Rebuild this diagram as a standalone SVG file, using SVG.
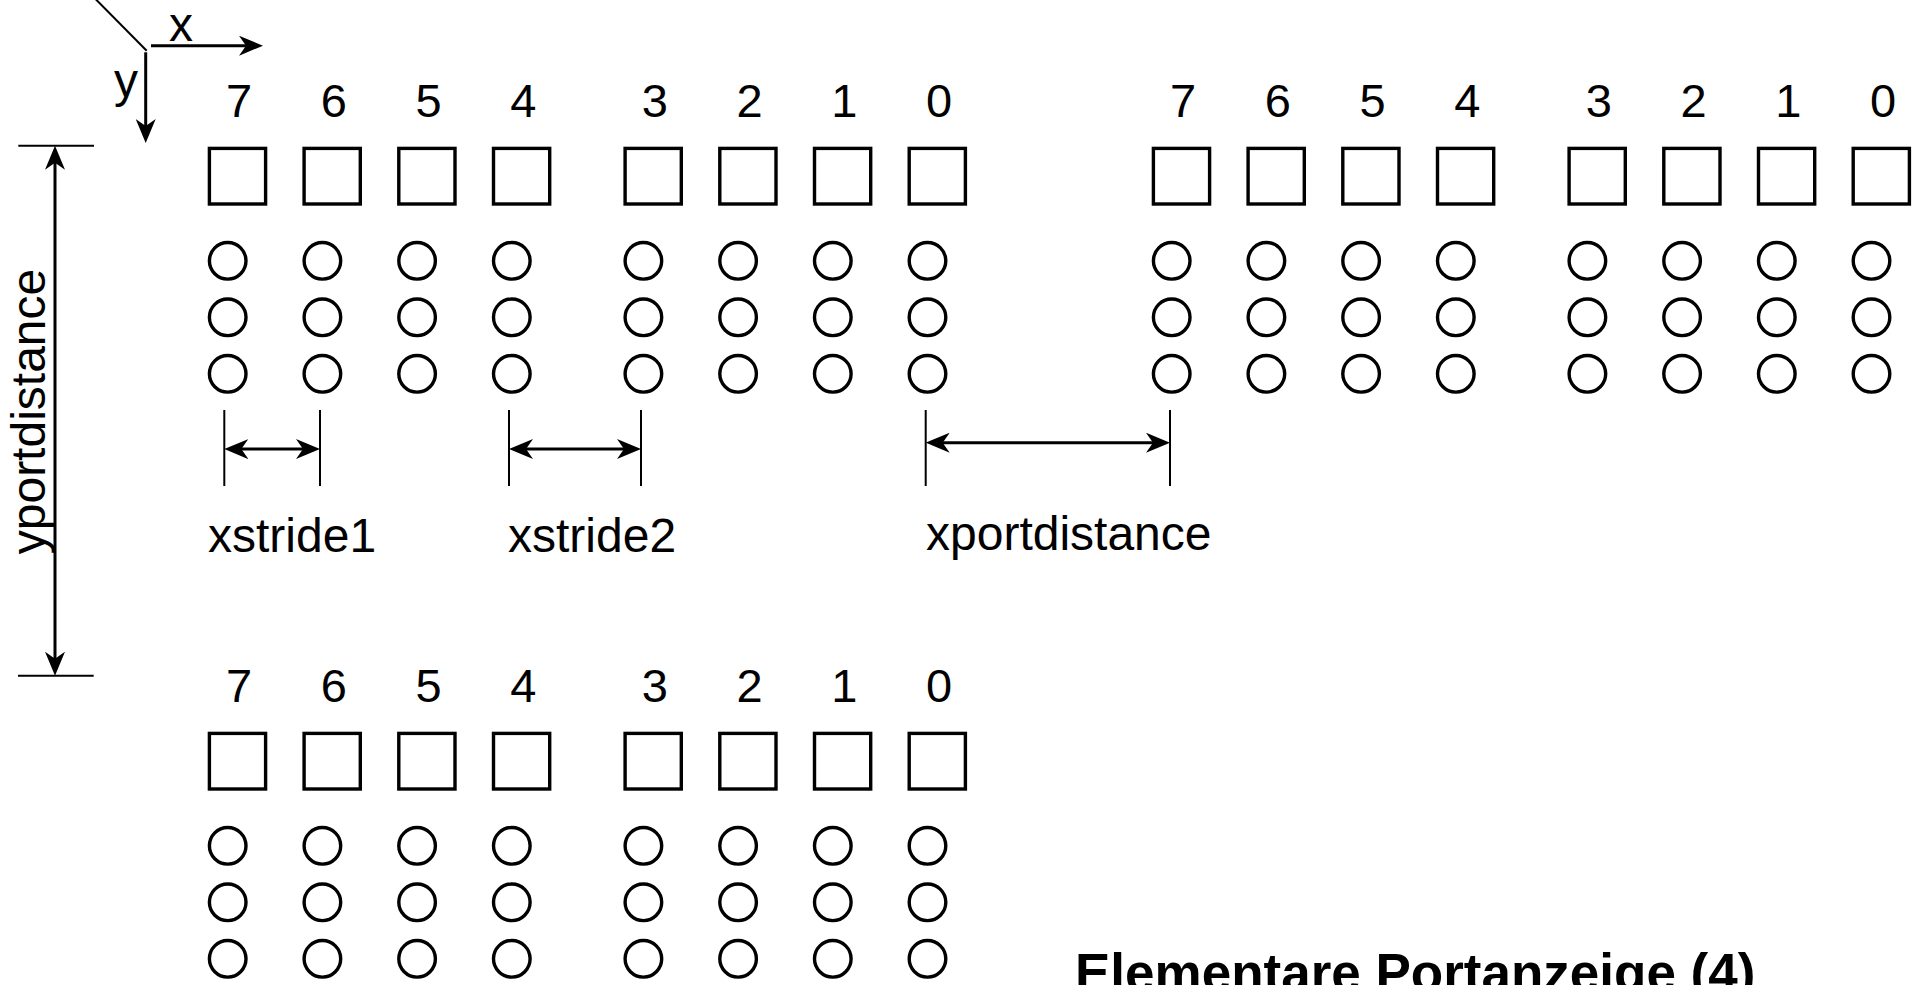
<svg xmlns="http://www.w3.org/2000/svg" xmlns:xlink="http://www.w3.org/1999/xlink" width="1921" height="985" viewBox="0 0 1921 985">
<style>
  .box{fill:#fff;stroke:#000;stroke-width:3.4}
  .led{fill:#fff;stroke:#000;stroke-width:3.4}
  .num{font-family:"Liberation Sans",Arial,sans-serif;font-size:47px;fill:#000;text-anchor:middle}
  .lbl{font-family:"Liberation Sans",Arial,sans-serif;font-size:48px;fill:#000}
  .title{font-family:"Liberation Sans",Arial,sans-serif;font-size:53px;font-weight:bold;fill:#000}
  .axis{stroke:#000;stroke-width:3;fill:none}
  .dim{stroke:#000;stroke-width:3;fill:none}
  .tick{stroke:#000;stroke-width:2;fill:none}
</style>
<defs>
  <marker id="arr" viewBox="0 0 24 20" refX="18" refY="10" markerWidth="24" markerHeight="20" markerUnits="userSpaceOnUse" orient="auto-start-reverse">
    <path d="M0,0 L24,10 L0,20 L7,10 Z" fill="#000"/>
  </marker>
  <g id="bit">
    <rect class="box" x="1.7" y="148.4" width="56.2" height="55.6"/>
    <circle class="led" cx="20" cy="260.8" r="18.3"/>
    <circle class="led" cx="20" cy="317.3" r="18.3"/>
    <circle class="led" cx="20" cy="373.8" r="18.3"/>
  </g>
</defs>
<rect width="1921" height="985" fill="#fff"/>

<g id="axes">
  <line x1="95" y1="-1.5" x2="146.7" y2="50.7" stroke="#000" stroke-width="2"/>
  <line class="axis" x1="151" y1="45.7" x2="257" y2="45.7" marker-end="url(#arr)"/>
  <line class="axis" x1="145.7" y1="52.3" x2="145.7" y2="137" marker-end="url(#arr)"/>
  <text class="lbl" x="169" y="41">x</text>
  <text class="lbl" x="114" y="97">y</text>
</g>

<g id="port1">
  <g id="p1-b7" transform="translate(207.7,0)"><use xlink:href="#bit"/><text class="num" x="31.5" y="117">7</text></g>
  <g id="p1-b6" transform="translate(302.4,0)"><use xlink:href="#bit"/><text class="num" x="31.5" y="117">6</text></g>
  <g id="p1-b5" transform="translate(397.1,0)"><use xlink:href="#bit"/><text class="num" x="31.5" y="117">5</text></g>
  <g id="p1-b4" transform="translate(491.8,0)"><use xlink:href="#bit"/><text class="num" x="31.5" y="117">4</text></g>
  <g id="p1-b3" transform="translate(623.4,0)"><use xlink:href="#bit"/><text class="num" x="31.5" y="117">3</text></g>
  <g id="p1-b2" transform="translate(718.1,0)"><use xlink:href="#bit"/><text class="num" x="31.5" y="117">2</text></g>
  <g id="p1-b1" transform="translate(812.8,0)"><use xlink:href="#bit"/><text class="num" x="31.5" y="117">1</text></g>
  <g id="p1-b0" transform="translate(907.5,0)"><use xlink:href="#bit"/><text class="num" x="31.5" y="117">0</text></g>
</g>

<g id="port2">
  <g id="p2-b7" transform="translate(1151.7,0)"><use xlink:href="#bit"/><text class="num" x="31.5" y="117">7</text></g>
  <g id="p2-b6" transform="translate(1246.4,0)"><use xlink:href="#bit"/><text class="num" x="31.5" y="117">6</text></g>
  <g id="p2-b5" transform="translate(1341.1,0)"><use xlink:href="#bit"/><text class="num" x="31.5" y="117">5</text></g>
  <g id="p2-b4" transform="translate(1435.8,0)"><use xlink:href="#bit"/><text class="num" x="31.5" y="117">4</text></g>
  <g id="p2-b3" transform="translate(1567.4,0)"><use xlink:href="#bit"/><text class="num" x="31.5" y="117">3</text></g>
  <g id="p2-b2" transform="translate(1662.1,0)"><use xlink:href="#bit"/><text class="num" x="31.5" y="117">2</text></g>
  <g id="p2-b1" transform="translate(1756.8,0)"><use xlink:href="#bit"/><text class="num" x="31.5" y="117">1</text></g>
  <g id="p2-b0" transform="translate(1851.5,0)"><use xlink:href="#bit"/><text class="num" x="31.5" y="117">0</text></g>
</g>

<g id="port3">
  <g id="p3-b7" transform="translate(207.7,585)"><use xlink:href="#bit"/><text class="num" x="31.5" y="117">7</text></g>
  <g id="p3-b6" transform="translate(302.4,585)"><use xlink:href="#bit"/><text class="num" x="31.5" y="117">6</text></g>
  <g id="p3-b5" transform="translate(397.1,585)"><use xlink:href="#bit"/><text class="num" x="31.5" y="117">5</text></g>
  <g id="p3-b4" transform="translate(491.8,585)"><use xlink:href="#bit"/><text class="num" x="31.5" y="117">4</text></g>
  <g id="p3-b3" transform="translate(623.4,585)"><use xlink:href="#bit"/><text class="num" x="31.5" y="117">3</text></g>
  <g id="p3-b2" transform="translate(718.1,585)"><use xlink:href="#bit"/><text class="num" x="31.5" y="117">2</text></g>
  <g id="p3-b1" transform="translate(812.8,585)"><use xlink:href="#bit"/><text class="num" x="31.5" y="117">1</text></g>
  <g id="p3-b0" transform="translate(907.5,585)"><use xlink:href="#bit"/><text class="num" x="31.5" y="117">0</text></g>
</g>

<g id="connectors">
  <!-- xstride1 -->
  <line class="tick" x1="224.3" y1="410" x2="224.3" y2="486"/>
  <line class="tick" x1="320" y1="410" x2="320" y2="486"/>
  <line class="dim" x1="230.3" y1="449" x2="314" y2="449" marker-start="url(#arr)" marker-end="url(#arr)"/>
  <!-- xstride2 -->
  <line class="tick" x1="509" y1="410" x2="509" y2="486"/>
  <line class="tick" x1="641" y1="410" x2="641" y2="486"/>
  <line class="dim" x1="515" y1="449" x2="635" y2="449" marker-start="url(#arr)" marker-end="url(#arr)"/>
  <!-- xportdistance -->
  <line class="tick" x1="925.7" y1="410" x2="925.7" y2="486"/>
  <line class="tick" x1="1170" y1="410" x2="1170" y2="486"/>
  <line class="dim" x1="931.7" y1="442.7" x2="1164" y2="442.7" marker-start="url(#arr)" marker-end="url(#arr)"/>
  <!-- yportdistance -->
  <line class="tick" x1="18.3" y1="145.7" x2="94" y2="145.7"/>
  <line class="tick" x1="18" y1="675.7" x2="93.7" y2="675.7"/>
  <line class="dim" x1="55" y1="151.7" x2="55" y2="669.7" marker-start="url(#arr)" marker-end="url(#arr)"/>
</g>

<g id="labels">
  <text class="lbl" x="208" y="551.5">xstride1</text>
  <text class="lbl" x="508" y="551.5">xstride2</text>
  <text class="lbl" x="926" y="550">xportdistance</text>
  <text class="lbl" transform="translate(45,411.5) rotate(-90)" text-anchor="middle">yportdistance</text>
</g>

<g id="title">
  <text class="title" x="1075" y="991">Elementare Portanzeige (4)</text>
</g>
</svg>
